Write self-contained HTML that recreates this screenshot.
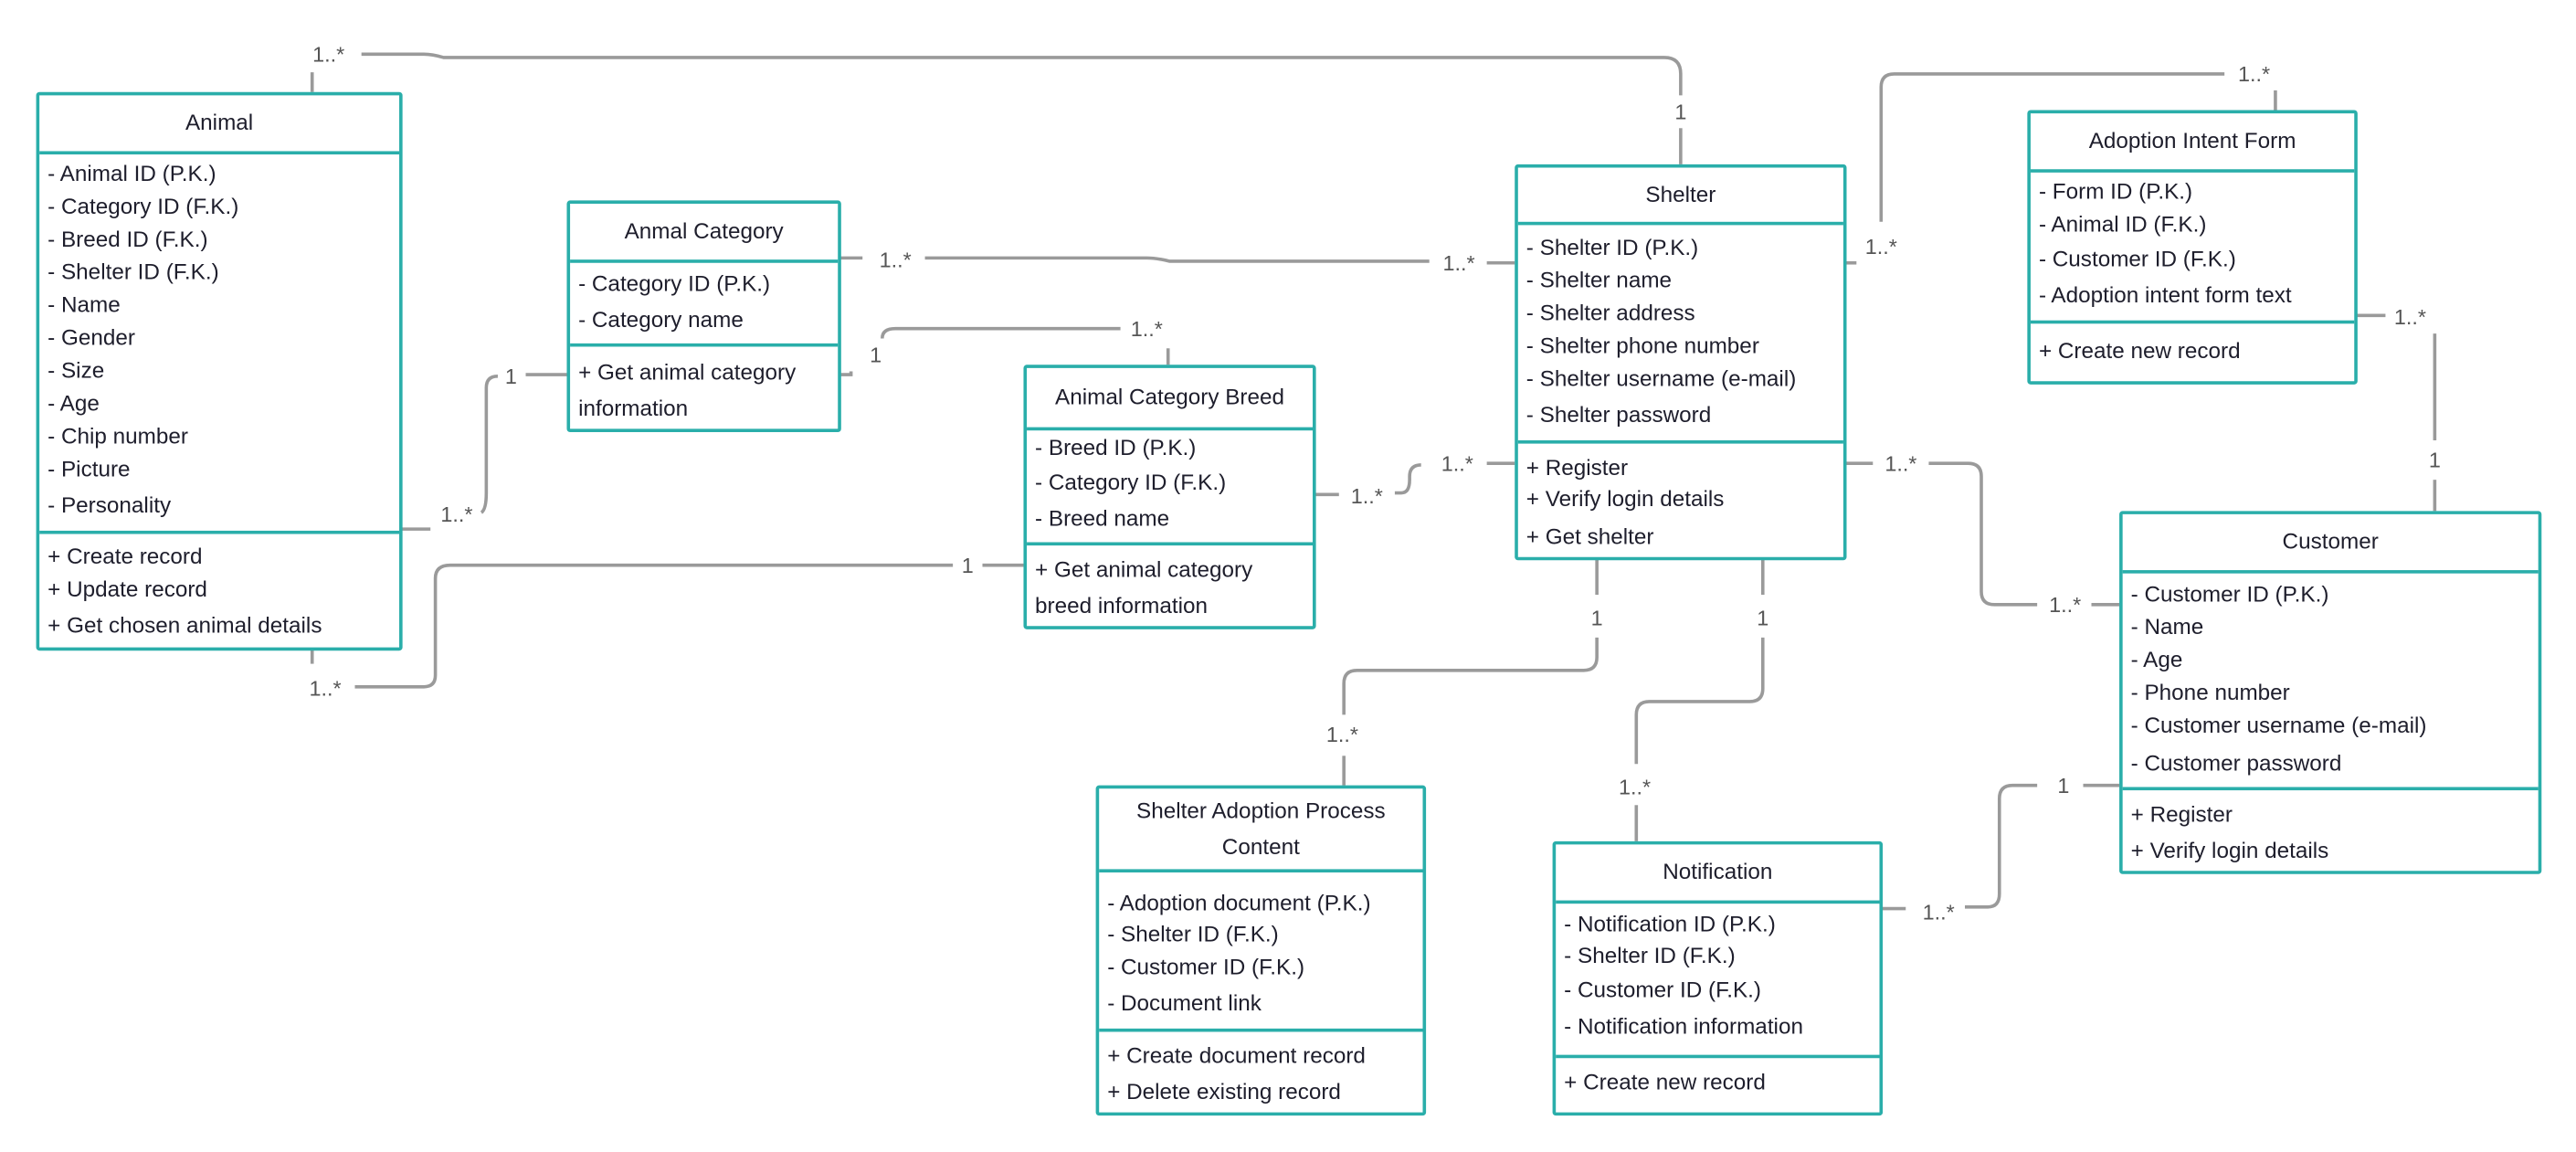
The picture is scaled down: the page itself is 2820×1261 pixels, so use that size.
<!DOCTYPE html>
<html><head><meta charset="utf-8">
<style>
html,body{margin:0;padding:0;background:#fff;}
body{width:2820px;height:1260px;overflow:hidden;position:relative;}
#wrap{position:absolute;left:0;top:0;width:1568px;height:701px;transform:scale(1.7985);transform-origin:0 0;font-family:"Liberation Sans",sans-serif;color:#1e1e2c;}
.box{position:absolute;border:2.2px solid #2aaeaa;border-radius:2px;background:#fff;box-sizing:border-box;}
.hd{position:absolute;left:0;right:0;top:0;border-bottom:2.2px solid #2aaeaa;text-align:center;font-size:13.5px;display:flex;align-items:center;justify-content:center;line-height:22px;}
.sec{position:absolute;left:0;right:0;}
.sec div{position:absolute;left:5px;font-size:13.5px;white-space:nowrap;line-height:16px;}
.div{position:absolute;left:0;right:0;border-top:2.2px solid #2aaeaa;}
svg{position:absolute;left:0;top:0;}
.lb{position:absolute;font-size:13px;color:#555;white-space:nowrap;transform:translate(-50%,-50%);background:#fff;padding:0 2px;}
</style></head><body><div id="wrap">
<svg width="1568" height="701" viewBox="0 0 1568 701" fill="none" stroke="#9a9a9a" stroke-width="2">
<path d="M190 56 V44"/>
<path d="M220 33 H258 Q263 33 270 35 H1013 Q1023 35 1023 45 V58"/>
<path d="M1023 78 V100"/>
<path d="M511 157 H525"/>
<path d="M563 157 H698 Q704 157 712 159 H870"/>
<path d="M905 160 H922"/>
<path d="M511 228 H518 V226"/>
<path d="M537 206 Q537 200 545 200 H682"/>
<path d="M711 212 V222"/>
<path d="M244 322 H262"/>
<path d="M293 312 Q296 310 296 300 V236 Q296 229 303 229"/>
<path d="M320 228 H345"/>
<path d="M190 395 V404"/>
<path d="M216 418 H258 Q265 418 265 411 V352 Q265 344 274 344 H580"/>
<path d="M598 344 H623"/>
<path d="M800 301 H815"/>
<path d="M849 300 H853 Q858 300 858 292 V290 Q858 283 865 283"/>
<path d="M905 282 H922"/>
<path d="M1123 160 H1130"/>
<path d="M1145 135 V53 Q1145 45 1153 45 H1354"/>
<path d="M1385 55 V67"/>
<path d="M1434 192 H1452"/>
<path d="M1482 203 V268"/>
<path d="M1482 292 V311"/>
<path d="M1123 282 H1140"/>
<path d="M1174 282 H1198 Q1206 282 1206 290 V360 Q1206 368 1214 368 H1240"/>
<path d="M1273 368 H1290"/>
<path d="M972 340 V362"/>
<path d="M972 388 V400 Q972 408 964 408 H826 Q818 408 818 416 V435"/>
<path d="M818 460 V478"/>
<path d="M1073 340 V362"/>
<path d="M1073 388 V419 Q1073 427 1065 427 H1004 Q996 427 996 435 V465"/>
<path d="M996 490 V512"/>
<path d="M1145 553 H1160"/>
<path d="M1196 552 H1210 Q1217 552 1217 544 V486 Q1217 478 1225 478 H1240"/>
<path d="M1268 478 H1290"/>
</svg>

<div class="lb" style="left:200px;top:33px">1..*</div>
<div class="lb" style="left:1023px;top:68px">1</div>
<div class="lb" style="left:545px;top:158px">1..*</div>
<div class="lb" style="left:888px;top:160px">1..*</div>
<div class="lb" style="left:533px;top:216px">1</div>
<div class="lb" style="left:698px;top:200px">1..*</div>
<div class="lb" style="left:278px;top:313px">1..*</div>
<div class="lb" style="left:311px;top:229px">1</div>
<div class="lb" style="left:198px;top:419px">1..*</div>
<div class="lb" style="left:589px;top:344px">1</div>
<div class="lb" style="left:832px;top:302px">1..*</div>
<div class="lb" style="left:887px;top:282px">1..*</div>
<div class="lb" style="left:1145px;top:150px">1..*</div>
<div class="lb" style="left:1372px;top:45px">1..*</div>
<div class="lb" style="left:1467px;top:193px">1..*</div>
<div class="lb" style="left:1482px;top:280px">1</div>
<div class="lb" style="left:1157px;top:282px">1..*</div>
<div class="lb" style="left:1257px;top:368px">1..*</div>
<div class="lb" style="left:972px;top:376px">1</div>
<div class="lb" style="left:817px;top:447px">1..*</div>
<div class="lb" style="left:1073px;top:376px">1</div>
<div class="lb" style="left:995px;top:479px">1..*</div>
<div class="lb" style="left:1180px;top:555px">1..*</div>
<div class="lb" style="left:1256px;top:478px">1</div>

<!-- Animal -->
<div class="box" style="left:22px;top:56px;width:223px;height:340px">
<div class="hd" style="height:34px">Animal</div>
<div class="sec" style="top:0">
<div style="top:40px">- Animal ID (P.K.)</div><div style="top:60px">- Category ID (F.K.)</div><div style="top:80px">- Breed ID (F.K.)</div><div style="top:100px">- Shelter ID (F.K.)</div><div style="top:120px">- Name</div><div style="top:140px">- Gender</div><div style="top:160px">- Size</div><div style="top:180px">- Age</div><div style="top:200px">- Chip number</div><div style="top:220px">- Picture</div><div style="top:242px">- Personality</div>
</div>
<div class="div" style="top:265px"></div>
<div class="sec"><div style="top:273px">+ Create record</div><div style="top:293px">+ Update record</div><div style="top:315px">+ Get chosen animal details</div></div>
</div>

<!-- Anmal Category -->
<div class="box" style="left:345px;top:122px;width:167px;height:141px">
<div class="hd" style="height:34px">Anmal Category</div>
<div class="sec"><div style="top:41px">- Category ID (P.K.)</div><div style="top:63px">- Category name</div></div>
<div class="div" style="top:85px"></div>
<div class="sec"><div style="top:95px">+ Get animal category</div><div style="top:117px">information</div></div>
</div>

<!-- Breed -->
<div class="box" style="left:623px;top:222px;width:178px;height:161px">
<div class="hd" style="height:36px">Animal Category Breed</div>
<div class="sec"><div style="top:41px">- Breed ID (P.K.)</div><div style="top:62px">- Category ID (F.K.)</div><div style="top:84px">- Breed name</div></div>
<div class="div" style="top:106px"></div>
<div class="sec"><div style="top:115px">+ Get animal category</div><div style="top:137px">breed information</div></div>
</div>

<!-- Shelter -->
<div class="box" style="left:922px;top:100px;width:202px;height:241px">
<div class="hd" style="height:33px">Shelter</div>
<div class="sec"><div style="top:41px">- Shelter ID (P.K.)</div><div style="top:61px">- Shelter name</div><div style="top:81px">- Shelter address</div><div style="top:101px">- Shelter phone number</div><div style="top:121px">- Shelter username (e-mail)</div><div style="top:143px">- Shelter password</div></div>
<div class="div" style="top:166px"></div>
<div class="sec"><div style="top:175px">+ Register</div><div style="top:194px">+ Verify login details</div><div style="top:217px">+ Get shelter</div></div>
</div>

<!-- Adoption Intent Form -->
<div class="box" style="left:1234px;top:67px;width:201px;height:167px">
<div class="hd" style="height:34px">Adoption Intent Form</div>
<div class="sec"><div style="top:40px">- Form ID (P.K.)</div><div style="top:60px">- Animal ID (F.K.)</div><div style="top:81px">- Customer ID (F.K.)</div><div style="top:103px">- Adoption intent form text</div></div>
<div class="div" style="top:126px"></div>
<div class="sec"><div style="top:137px">+ Create new record</div></div>
</div>

<!-- Customer -->
<div class="box" style="left:1290px;top:311px;width:257px;height:221px">
<div class="hd" style="height:34px">Customer</div>
<div class="sec"><div style="top:41px">- Customer ID (P.K.)</div><div style="top:61px">- Name</div><div style="top:81px">- Age</div><div style="top:101px">- Phone number</div><div style="top:121px">- Customer username (e-mail)</div><div style="top:144px">- Customer password</div></div>
<div class="div" style="top:166px"></div>
<div class="sec"><div style="top:175px">+ Register</div><div style="top:197px">+ Verify login details</div></div>
</div>

<!-- Shelter Adoption Process Content -->
<div class="box" style="left:667px;top:478px;width:201px;height:201px">
<div class="hd" style="height:49px">Shelter Adoption Process<br>Content</div>
<div class="sec"><div style="top:62px">- Adoption document (P.K.)</div><div style="top:81px">- Shelter ID (F.K.)</div><div style="top:101px">- Customer ID (F.K.)</div><div style="top:123px">- Document link</div></div>
<div class="div" style="top:146px"></div>
<div class="sec"><div style="top:155px">+ Create document record</div><div style="top:177px">+ Delete existing record</div></div>
</div>

<!-- Notification -->
<div class="box" style="left:945px;top:512px;width:201px;height:167px">
<div class="hd" style="height:34px">Notification</div>
<div class="sec"><div style="top:41px">- Notification ID (P.K.)</div><div style="top:60px">- Shelter ID (F.K.)</div><div style="top:81px">- Customer ID (F.K.)</div><div style="top:103px">- Notification information</div></div>
<div class="div" style="top:128px"></div>
<div class="sec"><div style="top:137px">+ Create new record</div></div>
</div>
</div></body></html>
